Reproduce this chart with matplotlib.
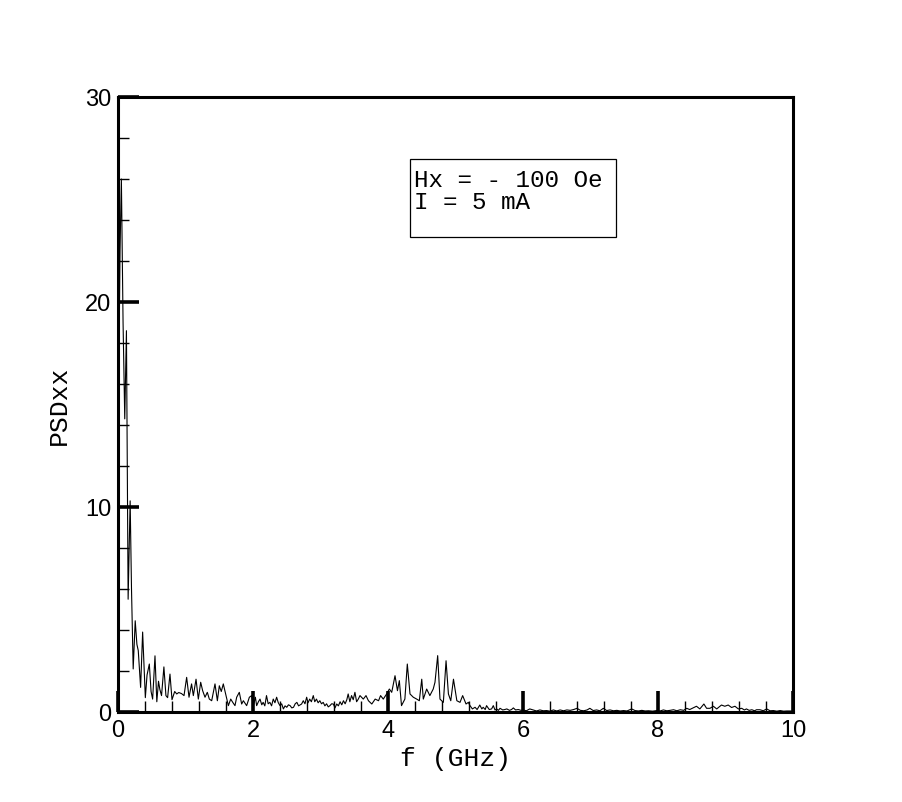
import matplotlib
matplotlib.use('Agg')
import matplotlib.pyplot as plt
from matplotlib.ticker import MultipleLocator
from matplotlib.patches import Rectangle

# ---- data ----
freq_peak = [0.0, 0.015, 0.03, 0.05, 0.075, 0.1, 0.125, 0.15, 0.18, 0.2, 0.225,
             0.255, 0.28, 0.3, 0.335, 0.365, 0.405]
psd_peak = [17.0, 17.5, 22.5, 26.0, 19.0, 14.3, 18.6, 5.5, 10.3, 6.0, 2.1,
            4.45, 3.3, 3.0, 1.2, 3.9, 0.7]

freq_low = [0.43, 0.464, 0.49, 0.513, 0.548, 0.575, 0.6, 0.62, 0.645, 0.68, 0.71,
            0.735, 0.77, 0.8, 0.84, 0.87, 0.9, 0.94, 0.978, 1.017, 1.052, 1.09,
            1.116, 1.156, 1.19, 1.225, 1.254, 1.289, 1.323, 1.353, 1.388, 1.437,
            1.472, 1.501, 1.53, 1.56, 1.6, 1.635, 1.67, 1.7, 1.733, 1.758, 1.797,
            1.832, 1.857, 1.906, 1.946, 1.98]
psd_low = [1.8, 2.34, 1.0, 0.63, 2.74, 0.5, 1.5, 1.1, 0.8, 2.2, 0.8,
           0.7, 1.85, 0.6, 1.0, 0.88, 0.95, 0.9, 0.8, 1.69, 0.72, 1.37,
           0.8, 1.6, 0.63, 1.45, 1.04, 0.72, 0.96, 0.63, 0.55, 1.37,
           0.55, 1.28, 1.0, 1.37, 0.8, 0.31, 0.63, 0.47, 0.31, 0.72, 0.96,
           0.39, 0.55, 0.31, 0.72, 0.8]

freq_mid = [2.005, 2.035, 2.054, 2.08, 2.104, 2.13, 2.15, 2.175, 2.2, 2.225, 2.25,
            2.275, 2.3, 2.325, 2.35, 2.375, 2.4, 2.425, 2.45, 2.475, 2.5, 2.525,
            2.55, 2.575, 2.6, 2.625, 2.65, 2.675, 2.7, 2.72, 2.745, 2.77, 2.795,
            2.815, 2.84, 2.865, 2.893, 2.915, 2.94, 2.965, 2.99, 3.015, 3.04,
            3.065, 3.09, 3.115, 3.14, 3.165, 3.19, 3.215, 3.24, 3.265, 3.29,
            3.315, 3.34, 3.365, 3.39, 3.41, 3.435, 3.46, 3.485, 3.51, 3.535,
            3.56, 3.585]
psd_mid = [0.31, 0.72, 0.31, 0.5, 0.63, 0.35, 0.47, 0.3, 0.8, 0.4, 0.47,
           0.3, 0.63, 0.45, 0.72, 0.45, 0.31, 0.4, 0.15, 0.3, 0.23, 0.35,
           0.31, 0.2, 0.23, 0.4, 0.47, 0.3, 0.35, 0.39, 0.55, 0.4, 0.72,
           0.45, 0.63, 0.5, 0.8, 0.5, 0.63, 0.45, 0.55, 0.4, 0.47,
           0.3, 0.4, 0.25, 0.31, 0.4, 0.39, 0.2, 0.39, 0.3, 0.5,
           0.35, 0.55, 0.4, 0.6, 0.88, 0.5, 0.8, 0.6, 0.96, 0.5,
           0.63, 0.8]

freq_band = [3.634, 3.674, 3.71, 3.76, 3.81, 3.86, 3.89, 3.93, 3.98, 4.02, 4.055,
             4.104, 4.14, 4.168, 4.2, 4.25, 4.286, 4.326, 4.375, 4.425, 4.464,
             4.5, 4.523, 4.573, 4.62, 4.67, 4.696, 4.736, 4.77, 4.82, 4.86,
             4.895, 4.93, 4.97, 5.02, 5.067, 5.106, 5.156, 5.19]
psd_band = [0.63, 0.8, 0.55, 0.39, 0.63, 0.55, 0.8, 0.63, 0.88, 1.12, 0.96,
            1.77, 1.04, 1.53, 0.31, 0.63, 2.34, 0.88, 0.72, 0.63, 0.55,
            1.6, 0.63, 1.12, 0.8, 1.12, 1.45, 2.75, 0.63, 0.47, 2.5,
            0.88, 0.55, 1.6, 0.55, 0.47, 0.8, 0.39, 0.47]

freq_tail = [5.215, 5.25, 5.29, 5.32, 5.36, 5.39, 5.41, 5.44, 5.46, 5.5, 5.535,
             5.56, 5.585, 5.61, 5.635, 5.66, 5.7, 5.73, 5.76, 5.8, 5.83, 5.857,
             5.89, 5.93, 5.97, 6.0, 6.05, 6.1, 6.15, 6.2, 6.25, 6.3, 6.35, 6.4,
             6.45, 6.5, 6.55, 6.6, 6.65, 6.7, 6.75, 6.8, 6.85, 6.9, 6.95, 6.99,
             7.04, 7.09, 7.14, 7.19, 7.24, 7.29, 7.34, 7.39, 7.44, 7.49, 7.54,
             7.61, 7.66, 7.71, 7.76, 7.81, 7.86, 7.92, 7.98, 8.03, 8.08, 8.13,
             8.18, 8.23, 8.28, 8.33, 8.38, 8.425, 8.47, 8.52, 8.57, 8.62, 8.68,
             8.72, 8.77, 8.82, 8.87, 8.94, 8.99, 9.04, 9.09, 9.14, 9.19, 9.24,
             9.28, 9.31, 9.35, 9.39, 9.43, 9.46, 9.51, 9.56, 9.61, 9.66, 9.71,
             9.76, 9.81, 9.86, 9.91, 9.96, 10.0]
psd_tail = [0.31, 0.15, 0.23, 0.12, 0.34, 0.15, 0.23, 0.12, 0.31, 0.12, 0.15,
            0.31, 0.1, 0.15, 0.08, 0.18, 0.1, 0.12, 0.15, 0.08, 0.12, 0.2,
            0.1, 0.12, 0.08, 0.1, 0.06, 0.15, 0.1, 0.05, 0.1, 0.06, 0.07, 0.04,
            0.1, 0.05, 0.1, 0.06, 0.1, 0.08, 0.12, 0.18, 0.08, 0.06, 0.1, 0.18,
            0.07, 0.1, 0.06, 0.18, 0.07, 0.1, 0.06, 0.08, 0.05, 0.07, 0.05,
            0.15, 0.07, 0.05, 0.08, 0.05, 0.06, 0.04, 0.07, 0.05, 0.1, 0.06,
            0.08, 0.11, 0.06, 0.11, 0.08, 0.18, 0.12, 0.2, 0.28, 0.15, 0.39,
            0.18, 0.18, 0.28, 0.15, 0.34, 0.28, 0.34, 0.22, 0.28, 0.15, 0.18,
            0.1, 0.15, 0.08, 0.11, 0.06, 0.11, 0.11, 0.06, 0.15, 0.06, 0.07,
            0.04, 0.07, 0.04, 0.05, 0.05, 0.04]

freq = freq_peak + freq_low + freq_mid + freq_band + freq_tail
psd = psd_peak + psd_low + psd_mid + psd_band + psd_tail

x_ticks = [0, 2, 4, 6, 8, 10]
y_ticks = [0, 10, 20, 30]
x_label = "f (GHz)"
y_label = "PSDxx"
note_lines = ["Hx = - 100 Oe", "I = 5 mA"]

# ---- figure ----
plt.rcParams['font.family'] = ['Liberation Sans', 'DejaVu Sans']
fig = plt.figure(figsize=(9.03, 8.03), dpi=100)
ax = fig.add_axes([118 / 903, 90 / 803, 675 / 903, 615 / 803])

ax.plot(freq, psd, color='black', lw=0.8, zorder=2)

ax.set_xlim(0, 10)
ax.set_ylim(0, 30)
ax.set_xticks(x_ticks)
ax.set_yticks(y_ticks)
ax.xaxis.set_minor_locator(MultipleLocator(0.4))
ax.yaxis.set_minor_locator(MultipleLocator(2))
ax.tick_params(which='major', direction='in', length=15, width=2.6,
               top=False, right=False, labelsize=17, pad=5, color='black')
ax.tick_params(which='minor', direction='in', length=8, width=1.0,
               top=False, right=False, color='black')
for s in ax.spines.values():
    s.set_linewidth(2.2)
    s.set_color('black')

ax.set_xlabel(x_label, family='Liberation Mono', fontsize=19)
ax.set_ylabel(y_label, family='Liberation Mono', fontsize=19)
ax.xaxis.set_label_coords(0.5, -0.056)
ax.yaxis.set_label_coords(-0.07, 0.5)

ax.add_patch(Rectangle((0.4326, 0.772), 0.3052, 0.127, transform=ax.transAxes,
                       fill=False, lw=0.9, ec='black', zorder=5))
ax.text(0.4385, 0.8555, note_lines[0], transform=ax.transAxes,
        family='Liberation Mono', fontsize=17.5, va='baseline', ha='left')
ax.text(0.4385, 0.8195, note_lines[1], transform=ax.transAxes,
        family='Liberation Mono', fontsize=17.5, va='baseline', ha='left')

fig.savefig('out.png', dpi=100)
